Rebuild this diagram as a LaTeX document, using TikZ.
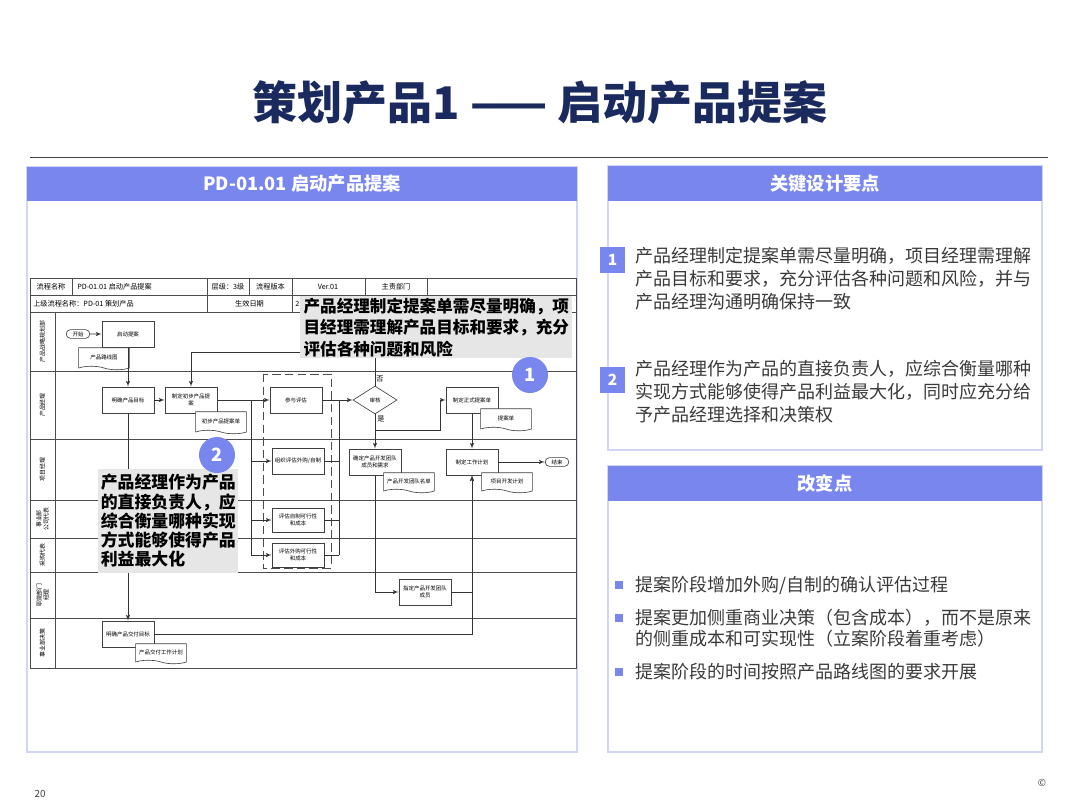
\documentclass[tikz,border=0pt]{standalone}
\usepackage{fontspec}
\setmainfont{Noto Sans CJK SC}
\XeTeXlinebreaklocale "zh"
\usetikzlibrary{shapes,arrows}
\definecolor{barblue}{HTML}{7886EE}
\definecolor{frame}{HTML}{D3D6F1}
\definecolor{navy}{HTML}{1B2A5E}
\definecolor{ink}{HTML}{3A3A3A}
\definecolor{note}{HTML}{E6E6E6}
\newcommand{\flowfont}{\fontsize{3.9}{4.6}\selectfont}
\newcommand{\headfont}{\fontsize{5.1}{5.8}\selectfont}
\newcommand{\lanefont}{\fontsize{4.2}{5}\selectfont}
\tikzstyle{task} = [rectangle, draw=black!75, fill=white, font=\flowfont, align=center,
    minimum width=1.3cm, minimum height=0.65cm, inner sep=1pt, line width=0.45pt]
\tikzstyle{paper} = [tape, tape bend top=none, tape bend bottom=out and in, tape bend height=2.5pt,
    draw=black!75, fill=white, font=\flowfont, align=center, minimum width=1.27cm,
    minimum height=0.55cm, inner sep=1pt, line width=0.45pt]
\tikzstyle{term} = [rounded rectangle, draw=black!75, fill=white, font=\flowfont,
    minimum width=0.62cm, minimum height=0.22cm, inner sep=0.4pt, line width=0.45pt]
\tikzstyle{check} = [diamond, draw=black!75, fill=white, font=\flowfont,
    minimum width=1.1cm, minimum height=0.7cm, inner sep=0pt, line width=0.45pt]
\tikzstyle{line} = [draw=black!80, -latex', line width=0.45pt]
\tikzstyle{wire} = [draw=black!80, line width=0.45pt]
\tikzstyle{cell} = [font=\headfont, inner sep=0pt]
\tikzstyle{lanename} = [font=\lanefont, rotate=90, align=center, inner sep=0pt]
\tikzstyle{headbar} = [fill=barblue, text=white, font=\fontsize{13}{13}\selectfont\bfseries, inner sep=0pt]
\tikzstyle{remark} = [fill=note, text=black, font=\fontsize{11.8}{15.3}\selectfont\bfseries,
    align=left, inner sep=1pt]
\tikzstyle{badge} = [circle, fill=barblue, text=white, minimum size=0.9cm, inner sep=0pt,
    font=\fontsize{13}{13}\selectfont\bfseries]
\tikzstyle{numbox} = [fill=barblue, text=white, minimum width=0.62cm, minimum height=0.65cm,
    inner sep=0pt, font=\fontsize{11}{11}\selectfont\bfseries]
\tikzstyle{keypoint} = [font=\fontsize{12.8}{16.4}\selectfont, text=ink, align=left, inner sep=0pt, anchor=west]
\tikzstyle{bullet} = [fill=barblue, minimum size=5pt, inner sep=0pt]
\begin{document}
\begin{tikzpicture}[x=0.025cm, y=-0.025cm]
    \useasboundingbox (0,0) rectangle (1080,810);
    \fill[white] (0,0) rectangle (1080,810);

    % title
    \node[font=\fontsize{32}{32}\selectfont\bfseries, text=navy] (title) at (540,103) {策划产品1 —— 启动产品提案};
    \draw[black!75, line width=0.6pt] (30,157) -- (1048,157);

    % left panel
    \draw[frame, line width=0.8pt] (27,167) rectangle (577,752);
    \node[headbar, minimum width=13.75cm, minimum height=0.85cm] (flowhead) at (302,184) {PD-01.01 启动产品提案};

    % table grid
    \draw[black!70, line width=0.6pt] (30,278) rectangle (576,668);
    \foreach \y in {295,312,371,439,500,538,572,618}
        \draw[black!70, line width=0.5pt] (30,\y) -- (576,\y);
    \foreach \x in {72,207,249,292,365,427}
        \draw[black!70, line width=0.5pt] (\x,278) -- (\x,295);
    \foreach \x in {207,292}
        \draw[black!70, line width=0.5pt] (\x,295) -- (\x,312);
    \draw[black!70, line width=0.5pt] (55,312) -- (55,668);

    \node[cell] (c1) at (51,286.5) {流程名称};
    \node[cell, anchor=west] (c2) at (77,286.5) {PD-01.01 启动产品提案};
    \node[cell] (c3) at (228,286.5) {层级：3级};
    \node[cell] (c4) at (270.5,286.5) {流程版本};
    \node[cell] (c5) at (328,286.5) {Ver.01};
    \node[cell] (c6) at (396,286.5) {主责部门};
    \node[cell, anchor=west] (c7) at (33,303.5) {上级流程名称：PD-01 策划产品};
    \node[cell] (c8) at (249.5,303.5) {生效日期};
    \node[cell, anchor=west] (c9) at (295,303.5) {2};

    % lanes
    \node[lanename] (l1) at (42.5,341.5) {产品战略规划部};
    \node[lanename] (l2) at (42.5,405) {产品经理};
    \node[lanename] (l3) at (42.5,469.5) {项目经理};
    \node[lanename] (l4) at (42.5,519) {事业部\\公司代表};
    \node[lanename] (l5) at (42.5,555) {采购代表};
    \node[lanename] (l6) at (42.5,595) {职能部门\\经理};
    \node[lanename] (l7) at (42.5,643) {事业部决策};

    % assessment group
    \draw[black!70, line width=0.6pt, dash pattern=on 6pt off 3pt] (263,374) rectangle (331,568);

    \node[term] (start) at (78,334) {开始};
    \node[task] (launch) at (128,334) {启动提案};
    \node[task] (goal) at (128,400) {明确产品目标};
    \node[task] (draft) at (191,400) {制定初步产品提\\案};
    \node[task] (assess) at (296,400) {参与评估};
    \node[task] (org) at (298,461) {组织评估外购/自制};
    \node[task, minimum height=0.6cm] (selfmade) at (298,520) {评估自制可行性\\和成本};
    \node[task, minimum height=0.6cm] (outsource) at (298,555) {评估外购可行性\\和成本};
    \node[check] (review) at (375,400) {审核};
    \node[task] (formal) at (472,400) {制定正式提案单};
    \node[task] (team) at (375,462) {确定产品开发团队\\成员和需求};
    \node[task] (plan) at (472,462) {制定工作计划};
    \node[term] (finish) at (557,462) {结束};
    \node[task] (assign) at (425,592) {指定产品开发团队\\成员};
    \node[task] (deliver) at (128,634) {明确产品交付目标};

    \node[paper] (roadmap) at (104,357) {产品路线图};
    \node[paper] (draftdoc) at (221,421) {初步产品提案单};
    \node[paper] (proposal) at (506,418) {提案单};
    \node[paper, minimum height=0.5cm] (teamdoc) at (409,481) {产品开发团队名单};
    \node[paper, minimum height=0.5cm] (plandoc) at (507,481) {项目开发计划};
    \node[paper, minimum height=0.5cm] (deliverdoc) at (161,652) {产品交付工作计划};

    \coordinate (splitin) at (251,400);
    \coordinate (splitend) at (251,555);
    \coordinate (joinin) at (339,400);
    \coordinate (joinend) at (339,555);
    \coordinate (redo) at (191,352);
    \coordinate (yesfork) at (375,430);
    \coordinate (yesup) at (440,430);

    \path [line] (start) -- (launch);
    \path [line] (launch) -- (goal);
    \path [line] (goal) -- (draft);
    \path [line] (draft) -- (assess);
    \draw [wire] (splitin) -- (splitend);
    \path [line] (splitin |- org) -- (org);
    \path [line] (splitin |- selfmade) -- (selfmade);
    \path [line] (splitend) -- (outsource);
    \path [line] (assess) -- (review);
    \draw [wire] (joinin) -- (joinend);
    \draw [wire] (org) -- (org -| joinin);
    \draw [wire] (selfmade) -- (selfmade -| joinin);
    \draw [wire] (outsource) -- (joinend);
    \path [line] (review.north) |- (redo) -- (draft);
    \path [line] (review) -- (team);
    \path [line] (yesfork) -- (yesup) |- (formal);
    \path [line] (formal) -- (plan);
    \path [line] (plan) -- (finish);
    \path [line] (team) |- (assign);
    \path [line] (assign) -| (plan);
    \path [line] (deliver) -| (plan);
    \path [line] (goal) -- (deliver);
    \node[font=\headfont] (no) at (380,379) {否};
    \node[font=\headfont] (yes) at (381,419) {是};

    % callouts
    \node[remark, anchor=north west, minimum width=6.8cm, minimum height=1.55cm] (tip1) at (300,296)
        {产品经理制定提案单需尽量明确，项\\目经理需理解产品目标和要求，充分\\评估各种问题和风险};
    \node[badge] (one) at (530,375) {1};
    \node[remark, anchor=north west, minimum width=3.5cm, minimum height=2.58cm,
        font=\fontsize{12}{13.7}\selectfont\bfseries] (tip2) at (98,469)
        {产品经理作为产品\\的直接负责人，应\\综合衡量哪种实现\\方式能够使得产品\\利益最大化};
    \node[badge] (two) at (217,455) {2};

    % key points panel
    \draw[frame, line width=0.8pt] (608,166) rectangle (1042,450);
    \node[headbar, minimum width=10.85cm, minimum height=0.875cm] (keyhead) at (825,183.5) {关键设计要点};
    \node[numbox] (n1) at (612.5,260) {1};
    \node[keypoint] (k1) at (635,279) {产品经理制定提案单需尽量明确，项目经理需理解\\产品目标和要求，充分评估各种问题和风险，并与\\产品经理沟通明确保持一致};
    \node[numbox] (n2) at (612.5,380) {2};
    \node[keypoint] (k2) at (635,392) {产品经理作为产品的直接负责人，应综合衡量哪种\\实现方式能够使得产品利益最大化，同时应充分给\\予产品经理选择和决策权};

    % changes panel
    \draw[frame, line width=0.8pt] (608,466) rectangle (1042,752);
    \node[headbar, minimum width=10.85cm, minimum height=0.875cm] (changehead) at (825,483.5) {改变点};
    \node[bullet] (b1) at (619,585) {};
    \node[keypoint] (p1) at (635,585) {提案阶段增加外购/自制的确认评估过程};
    \node[bullet] (b2) at (619,618) {};
    \node[keypoint, font=\fontsize{12.8}{15}\selectfont] (p2) at (635,628.5) {提案更加侧重商业决策（包含成本），而不是原来\\的侧重成本和可实现性（立案阶段着重考虑）};
    \node[bullet] (b3) at (619,672) {};
    \node[keypoint] (p3) at (635,672) {提案阶段的时间按照产品路线图的要求开展};

    % footer
    \node[font=\fontsize{7}{7}\selectfont, text=black!75] (page) at (40,794) {20};
    \node[font=\fontsize{7}{7}\selectfont, text=black!75] (copy) at (1042,783) {©};
\end{tikzpicture}
\end{document}
